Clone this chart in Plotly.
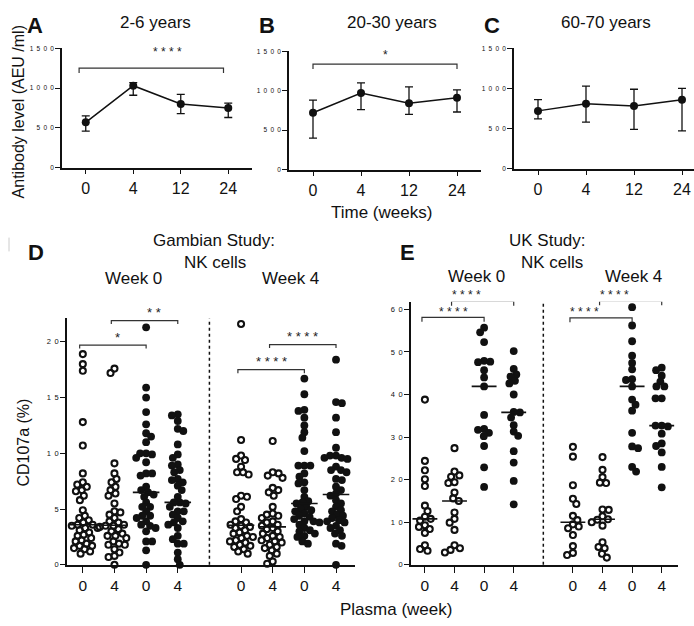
import math
import numpy as np
import plotly.graph_objects as go

W, H = 694, 626

# ---------------- Panels A-C : antibody level ----------------
time_labels = ["0", "4", "12", "24"]
a_mean = [570, 1030, 800, 750]
a_low = [460, 910, 680, 630]
a_high = [650, 1070, 920, 810]
b_mean = [720, 970, 840, 910]
b_low = [400, 760, 700, 730]
b_high = [880, 1100, 1050, 1010]
c_mean = [720, 810, 780, 860]
c_low = [620, 580, 490, 470]
c_high = [860, 1030, 990, 1000]
ab_ticks = [0, 500, 1000, 1500]

# ---------------- Panel D : Gambian study NK cells (CD107a %) ----------------
plasma_labels = ["0", "4", "0", "4", "0", "4", "0", "4"]
d_w0_open0 = [18.9, 18.0, 17.4, 12.8, 10.7, 8.2, 7.4, 7.2, 7.0, 6.7, 6.6, 6.2, 5.8, 4.9, 4.4, 4.2, 4.0, 3.8, 3.6,
              3.6, 3.5, 3.3, 3.3, 3.1, 2.9, 2.7, 2.6, 2.4, 2.2, 2.1, 1.9, 1.7, 1.7, 1.5, 1.4, 1.2, 1.0]
d_w0_open4 = [17.6, 17.2, 9.1, 8.2, 7.7, 7.4, 7.0, 6.7, 6.4, 6.2, 5.5, 4.8, 4.7, 4.5, 4.2, 3.9, 3.8, 3.6, 3.5,
              3.5, 3.4, 3.2, 3.0, 2.8, 2.6, 2.6, 2.4, 2.1, 1.9, 1.8, 1.8, 1.4, 1.1, 0.8, 0.7, 0.0]
d_w0_fill0 = [21.3, 15.9, 15.0, 13.7, 12.6, 11.8, 11.5, 11.0, 10.0, 10.0, 9.9, 9.6, 9.2, 8.2, 8.2, 8.0, 7.0, 6.7,
              6.5, 6.3, 6.1, 5.6, 5.2, 5.2, 4.8, 4.4, 4.4, 4.2, 3.9, 3.6, 3.5, 3.3, 3.0, 2.1, 2.1, 1.3, 0.0]
d_w0_fill4 = [13.5, 13.4, 12.9, 12.2, 12.0, 10.8, 9.9, 9.6, 9.0, 8.9, 8.5, 8.3, 7.7, 7.6, 7.4, 7.1, 6.7, 6.1,
              5.6, 5.6, 5.5, 5.2, 4.8, 4.8, 4.5, 4.2, 3.9, 3.8, 3.6, 3.3, 2.6, 2.3, 1.9, 1.9, 1.1, 0.5, 0.0]
d_w4_open0 = [21.6, 11.2, 9.8, 9.5, 9.4, 8.8, 8.3, 8.3, 8.1, 6.2, 6.1, 5.9, 5.2, 4.8, 4.1, 3.9, 3.8, 3.6, 3.5,
              3.4, 3.3, 3.1, 2.9, 2.8, 2.6, 2.5, 2.4, 2.2, 2.1, 2.0, 1.8, 1.7, 1.6, 1.4, 1.2, 1.0]
d_w4_open4 = [11.1, 8.3, 8.2, 8.0, 7.8, 6.9, 6.7, 6.5, 6.2, 5.2, 4.6, 4.5, 4.4, 4.2, 3.9, 3.8, 3.6, 3.5, 3.3,
              3.2, 3.0, 2.8, 2.6, 2.5, 2.4, 2.2, 2.1, 2.0, 1.8, 1.6, 1.5, 1.3, 1.0, 0.8, 0.3, 0.1]
d_w4_fill0 = [16.7, 15.3, 13.9, 13.8, 13.2, 12.5, 11.9, 11.4, 10.2, 8.9, 8.9, 8.9, 8.2, 7.9, 7.4, 7.3, 6.7, 6.1,
              5.7, 5.6, 5.5, 5.2, 5.0, 4.9, 4.8, 4.6, 4.4, 4.3, 4.1, 3.9, 3.9, 3.8, 3.6, 3.3, 3.1, 3.0, 2.8, 2.6,
              2.5, 2.1, 1.9]
d_w4_fill4 = [18.4, 14.6, 14.5, 13.2, 11.9, 10.5, 9.8, 9.8, 9.6, 9.6, 9.5, 8.8, 8.5, 8.5, 8.3, 7.7, 7.6, 7.0,
              6.7, 6.4, 6.2, 5.8, 5.5, 5.2, 4.9, 4.8, 4.5, 4.4, 4.2, 4.0, 3.9, 3.8, 3.5, 3.3, 3.1, 2.8, 2.6, 1.9,
              1.7, 0.0]
d_ticks = [0, 5, 10, 15, 20]

# ---------------- Panel E : UK study NK cells (CD107a %) ----------------
e_w0_open0 = [38.8, 24.4, 22.2, 20.1, 18.5, 13.9, 12.6, 11.3, 10.8, 10.4, 9.3, 8.9, 8.4, 7.5, 4.6, 3.7, 3.3]
e_w0_open4 = [27.4, 21.9, 21.0, 20.7, 19.4, 19.2, 17.0, 15.6, 15.0, 12.3, 10.8, 9.9, 8.2, 4.6, 3.9, 3.5, 2.9]
e_w0_fill0 = [55.7, 54.6, 52.3, 47.9, 47.7, 47.6, 45.7, 44.0, 41.9, 35.2, 31.9, 31.7, 31.0, 30.2, 27.9, 22.9, 18.3]
e_w0_fill4 = [50.2, 46.0, 44.7, 44.2, 43.2, 42.6, 40.0, 35.9, 35.8, 34.6, 32.8, 31.3, 30.3, 26.7, 24.0, 19.7, 14.2]
e_w4_open0 = [27.7, 25.4, 18.7, 15.5, 14.3, 11.5, 10.5, 9.5, 9.0, 8.6, 7.0, 4.4, 2.8, 2.3]
e_w4_open4 = [25.3, 22.3, 20.6, 19.3, 19.2, 13.0, 12.9, 11.4, 10.7, 10.6, 10.0, 9.2, 5.3, 4.2, 3.9, 2.6, 1.7]
e_w4_fill0 = [60.5, 56.2, 52.5, 49.1, 47.4, 45.9, 43.6, 43.4, 41.9, 38.8, 37.6, 36.2, 31.0, 27.8, 27.4, 23.0, 21.9]
e_w4_fill4 = [46.3, 45.7, 44.4, 43.0, 41.9, 41.9, 39.1, 39.1, 32.7, 32.7, 32.5, 30.8, 28.5, 27.9, 26.4, 23.0, 18.2]
e_ticks = [0, 10, 20, 30, 40, 50, 60]

# significance brackets: (left column, right column, height, label)
a_brackets = [(0, 3, 1252, "****")]
b_brackets = [(0, 3, 1337, "*")]
d_brackets = [(0, 2, 19.7, "*"), (1, 3, 21.9, "**"), (4, 6, 17.5, "****"), (5, 7, 19.75, "****")]
e_brackets = [(0, 2, 58.1, "****"), (1, 3, 61.9, "****"), (4, 6, 58.0, "****"), (5, 7, 62.0, "****")]

# ---------------------------------------------------------------------
FONT = "Liberation Sans, Arial, sans-serif"
INK = "#111111"
SP = "\u2002"


def px(x):
    return x / W


def py(y):
    return 1 - y / H


def spaced(v):
    return SP.join(str(v))


# panel geometry (pixels)
geo = {
    "A": dict(x=(62, 252), y=(45, 166), xr=[-0.5, 3.5], yr=[0, 1500]),
    "B": dict(x=(289, 481), y=(48, 168), xr=[-0.5, 3.5], yr=[0, 1500]),
    "C": dict(x=(514, 694), y=(45, 167), xr=[-0.5, 3.25], yr=[0, 1500]),
    "D": dict(x=(67, 355), y=(319, 569), xr=[-0.5, 8.6], yr=[0, 22.1]),
    "E": dict(x=(411, 678), y=(302, 569), xr=[-0.47, 8.55], yr=[0, 61.8]),
}
axid = {"A": "", "B": "2", "C": "3", "D": "4", "E": "5"}


def data_to_paper(key, xv, yv):
    g = geo[key]
    fx = (xv - g["xr"][0]) / (g["xr"][1] - g["xr"][0])
    fy = (yv - g["yr"][0]) / (g["yr"][1] - g["yr"][0])
    xpix = g["x"][0] + fx * (g["x"][1] - g["x"][0])
    ypix = g["y"][1] - fy * (g["y"][1] - g["y"][0])
    return px(xpix), py(ypix)


fig = go.Figure()

# ---- line panels ----
for key, mean, low, high in [("A", a_mean, a_low, a_high), ("B", b_mean, b_low, b_high),
                             ("C", c_mean, c_low, c_high)]:
    n = axid[key]
    xs = list(range(len(time_labels)))
    fig.add_trace(go.Scatter(
        x=xs, y=mean, mode="lines+markers", xaxis="x" + n, yaxis="y" + n,
        line=dict(color=INK, width=1.5),
        marker=dict(color=INK, size=8),
        error_y=dict(type="data", symmetric=False,
                     array=[h - m for h, m in zip(high, mean)],
                     arrayminus=[m - l for m, l in zip(mean, low)],
                     color=INK, thickness=1.3, width=4),
        cliponaxis=False, showlegend=False, hoverinfo="skip"))


def beeswarm(vals, ppu_y, ppu_x, diam):
    vals = np.asarray(vals, dtype=float)
    order = np.argsort(-vals, kind="stable")
    placed = []
    offs = np.zeros(len(vals))
    for k, i in enumerate(order):
        y = vals[i] * ppu_y
        forb = []
        for xp, yp in placed:
            dy = abs(y - yp)
            if dy < diam:
                dx = math.sqrt(diam ** 2 - dy ** 2)
                forb.append((xp - dx, xp + dx))
        cands = [0.0] + [a for a, b in forb] + [b for a, b in forb]
        sgn = 1 if k % 2 else -1
        cands.sort(key=lambda c: (round(abs(c), 6), sgn * c))
        xsel = 0.0
        for c in cands:
            if all(not (a + 1e-6 < c < b - 1e-6) for a, b in forb):
                xsel = c
                break
        placed.append((xsel, y))
        offs[i] = xsel / ppu_x
    return offs


col_pos = [0, 1, 2, 3, 5, 6, 7, 8]
d_cols = [d_w0_open0, d_w0_open4, d_w0_fill0, d_w0_fill4, d_w4_open0, d_w4_open4, d_w4_fill0, d_w4_fill4]
e_cols = [e_w0_open0, e_w0_open4, e_w0_fill0, e_w0_fill4, e_w4_open0, e_w4_open4, e_w4_fill0, e_w4_fill4]
is_open = [True, True, False, False, True, True, False, False]

for key, cols, dia in [("D", d_cols, 6.0), ("E", e_cols, 6.2)]:
    g = geo[key]
    n = axid[key]
    ppu_x = (g["x"][1] - g["x"][0]) / (g["xr"][1] - g["xr"][0])
    ppu_y = (g["y"][1] - g["y"][0]) / (g["yr"][1] - g["yr"][0])
    for pos, vals, op in zip(col_pos, cols, is_open):
        offs = beeswarm(vals, ppu_y, ppu_x, dia)
        if op:
            mk = dict(symbol="circle-open", size=6, color=INK, line=dict(width=2.1, color=INK))
        else:
            mk = dict(symbol="circle", size=7.8, color=INK, line=dict(width=0))
        fig.add_trace(go.Scatter(
            x=pos + offs, y=vals, mode="markers", xaxis="x" + n, yaxis="y" + n,
            marker=mk, cliponaxis=False, showlegend=False, hoverinfo="skip"))
        med = float(np.median(vals))
        fig.add_trace(go.Scatter(
            x=[pos - 0.42, pos + 0.42], y=[med, med], mode="lines", xaxis="x" + n, yaxis="y" + n,
            line=dict(color=INK, width=1.6), cliponaxis=False, showlegend=False, hoverinfo="skip"))


def axis(key, which, **kw):
    g = geo[key]
    if which == "x":
        dom = [px(g["x"][0]), px(g["x"][1])]
        rng = g["xr"]
    else:
        dom = [py(g["y"][1]), py(g["y"][0])]
        rng = g["yr"]
    d = dict(domain=dom, range=rng, showline=True, linecolor=INK, linewidth=1.5,
             ticks="outside", ticklen=5, tickwidth=1.4, tickcolor=INK,
             showgrid=False, zeroline=False, fixedrange=True,
             anchor=("y" if which == "x" else "x") + axid[key])
    d.update(kw)
    return d


layout = dict(
    width=W, height=H, margin=dict(l=0, r=0, t=0, b=0),
    paper_bgcolor="white", plot_bgcolor="white",
    font=dict(family=FONT, color=INK),
    showlegend=False,
)
for key in ["A", "B", "C"]:
    n = axid[key]
    layout["xaxis" + n] = axis(key, "x", tickvals=[0, 1, 2, 3], ticktext=time_labels,
                               tickfont=dict(size=16, family=FONT, color=INK))
    layout["yaxis" + n] = axis(key, "y", tickvals=ab_ticks, ticktext=[spaced(v) for v in ab_ticks],
                               tickfont=dict(size=6.5, family=FONT, color=INK))
layout["xaxis4"] = axis("D", "x", tickvals=col_pos, ticktext=plasma_labels, ticklen=6,
                        tickfont=dict(size=15.5, family=FONT, color=INK))
layout["yaxis4"] = axis("D", "y", tickvals=d_ticks, ticktext=[spaced(v) for v in d_ticks],
                        tickfont=dict(size=7.5, family=FONT, color=INK))
layout["xaxis5"] = axis("E", "x", tickvals=col_pos, ticktext=plasma_labels, ticklen=6,
                        tickfont=dict(size=15.5, family=FONT, color=INK))
layout["yaxis5"] = axis("E", "y", tickvals=e_ticks, ticktext=[spaced(v) for v in e_ticks],
                        tickfont=dict(size=7.5, family=FONT, color=INK))

shapes = []
annotations = []


def add_brackets(key, brackets, xpos, drop_px, text_px, font_size):
    g = geo[key]
    n = axid[key]
    ppu_y = (g["y"][1] - g["y"][0]) / (g["yr"][1] - g["yr"][0])
    for i, j, yv, lab in brackets:
        x0 = xpos[i] - 0.1
        x1 = xpos[j]
        yd = yv - drop_px / ppu_y
        shapes.append(dict(type="path", xref="x" + n, yref="y" + n,
                           path=f"M {x0},{yd} L {x0},{yv} L {x1},{yv} L {x1},{yd}",
                           line=dict(color="#333333", width=1.2)))
        tx, ty = data_to_paper(key, (x0 + x1) / 2, yv + text_px / ppu_y)
        annotations.append(dict(x=tx, y=ty, xref="paper", yref="paper",
                                text="\u00a0".join(lab), showarrow=False, yanchor="middle",
                                font=dict(size=font_size, family=FONT, color="#222222")))


add_brackets("A", a_brackets, [-0.04, 1, 2, 2.9], 5, 16, 12)
add_brackets("B", b_brackets, [0.1, 1, 2, 3], 5, 9, 12)
add_brackets("D", d_brackets, col_pos, 3.5, 8, 13)
add_brackets("E", e_brackets, col_pos, 4.5, 6, 12)

# dotted separators between week 0 and week 4 plasma groups
for key in ["D", "E"]:
    n = axid[key]
    shapes.append(dict(type="line", xref="x" + n, yref="y" + n + " domain", x0=4, x1=4, y0=0, y1=1,
                       line=dict(color=INK, width=1.5, dash="dot")))

# small grey mark at the left edge
shapes.append(dict(type="line", xref="paper", yref="paper", x0=px(9), x1=px(9), y0=py(237), y1=py(251),
                   line=dict(color="#cccccc", width=1)))


def text(x, y, s, size=17, bold=False, angle=0):
    annotations.append(dict(x=px(x), y=py(y), xref="paper", yref="paper", text=f"<b>{s}</b>" if bold else s,
                            showarrow=False, xanchor="center", yanchor="middle", textangle=angle,
                            font=dict(size=size, family=FONT, color=INK)))


text(35, 22, "A", 22, True)
text(267, 22, "B", 22, True)
text(492, 22, "C", 22, True)
text(155, 19, "2-6 years")
text(392, 19, "20-30 years")
text(606, 19, "60-70 years")
text(18, 110, "Antibody level (AEU /ml)", 16, angle=-90)
text(381, 212, "Time (weeks)")

text(36, 252, "D", 22, True)
text(407, 252, "E", 22, True)
text(214, 240, "Gambian Study:")
text(215, 262, "NK cells")
text(547, 240, "UK Study:")
text(552, 262, "NK cells")
text(133, 279, "Week 0")
text(290, 279, "Week 4")
text(477, 276, "Week 0")
text(633, 276, "Week 4")
text(24, 445, "CD107a (%)", 16, angle=-90)
text(396, 614, "Plasma (week)")

layout["shapes"] = shapes
layout["annotations"] = annotations
fig.update_layout(**layout)
fig.write_html("out.html", config={"displayModeBar": False},
               post_script="document.body.style.margin='0';document.body.style.overflow='hidden';")
